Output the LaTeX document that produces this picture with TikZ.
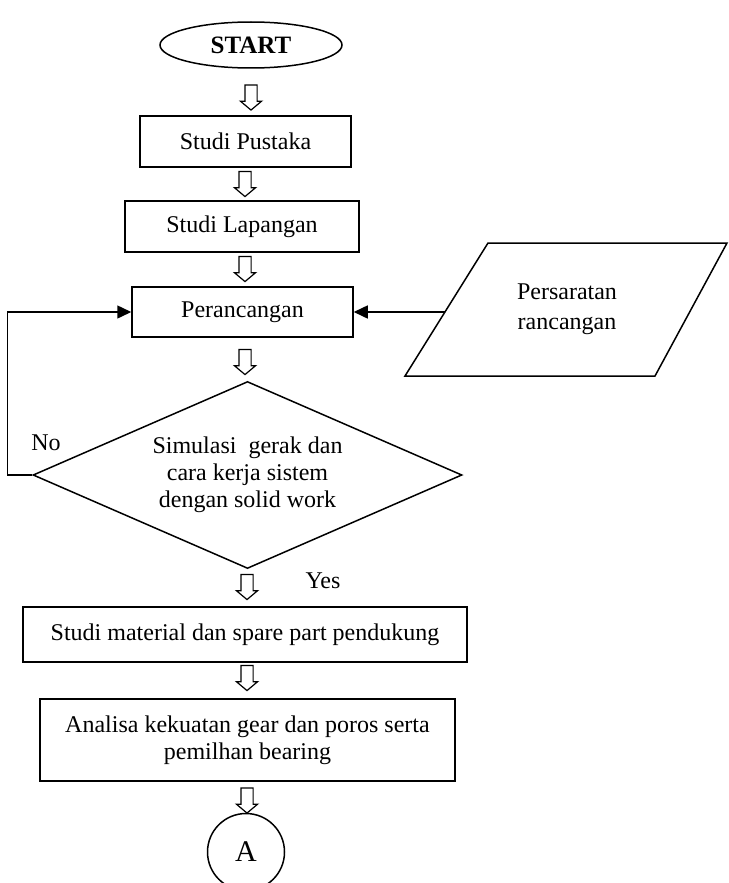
\documentclass[tikz,border=0pt]{standalone}
\usepackage{fontspec}
\setmainfont{Liberation Serif}
\usetikzlibrary{shapes.geometric,shapes.arrows,arrows.meta,calc}
\begin{document}
\begin{tikzpicture}[x=1pt,y=-1pt,
  txt/.style={font=\fontsize{24}{27}\selectfont},
  box/.style={txt,draw,line width=1.5pt,rectangle,inner sep=0pt,align=center},
  harrow/.style={draw,line width=1.2pt,single arrow,shape border rotate=270,
    minimum height=25pt,inner sep=5.5pt,single arrow head extend=4.5pt,
    single arrow tip angle=100},
  conn/.style={line width=1.5pt,-{Triangle[length=14pt,width=13pt]}},
  plain/.style={line width=1.5pt}]
\useasboundingbox (0,0) rectangle (728,883);
\fill[white] (0,0) rectangle (728,883);

\node[txt,draw,ellipse,line width=1.5pt,inner sep=0pt,minimum width=182pt,minimum height=46pt,font=\fontsize{25}{27}\selectfont\bfseries] (start) at (251,45) {START};
\node[box,minimum width=211pt,minimum height=51pt] (pustaka) at (245.5,141.5) {Studi Pustaka};
\node[box,minimum width=234pt,minimum height=51pt] (lapangan) at (242,226.5) {Studi Lapangan};
\node[box,minimum width=221pt,minimum height=50pt] (peran) at (242.5,312) {Perancangan};
\node[txt,draw,diamond,aspect=2.294,line width=1.5pt,inner sep=0pt,minimum width=429pt,minimum height=187pt,align=center] (sim) at (247.5,475) {Simulasi\ \ gerak dan\\cara kerja sistem\\dengan solid work};
\node[box,minimum width=444pt,minimum height=55pt] (material) at (245,634.5) {Studi material dan spare part pendukung};
\node[box,minimum width=415pt,minimum height=82pt] (analisa) at (247.5,740) {Analisa kekuatan gear dan poros serta\\pemilhan bearing};
\node[draw,circle,line width=1.5pt,inner sep=0pt,minimum size=77pt,font=\fontsize{30}{32}\selectfont] (conA) at (246,852) {A};

% input parallelogram
\draw[plain] (488,243) -- (727,243) -- (655,376) -- (405,376) -- cycle;
\node[txt,align=center,inner sep=0pt] (syarat) at (567,309) {Persaratan\\[3pt]rancangan};
\coordinate (pl) at (445,312);

% hollow arrows
\node[harrow] (h1) at (251,95) {};
\node[harrow] (h2) at (245,181.5) {};
\node[harrow] (h3) at (245,266.5) {};
\node[harrow] (h4) at (245,359.5) {};
\node[harrow] (h5) at (247,584.5) {};
\node[harrow] (h6) at (247,675.5) {};
\node[harrow] (h7) at (247,798) {};

% connectors
\draw[conn] (pl) -- (peran.east);
\draw[conn] (sim.west) -- ++(-25,0) |- (peran.west);

% labels
\node[txt,inner sep=0pt] (no) at (46,443) {No};
\node[txt,inner sep=0pt] (yes) at (323,581) {Yes};
\end{tikzpicture}
\end{document}
